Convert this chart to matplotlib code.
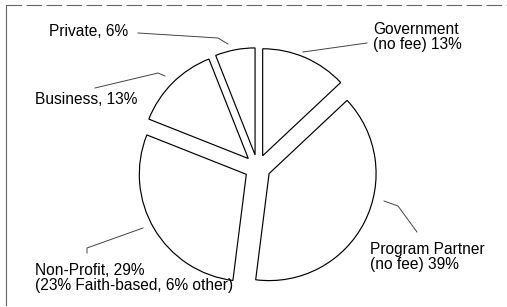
import matplotlib
matplotlib.use("Agg")
import matplotlib.pyplot as plt

categories = ["Government", "Program Partner", "Non-Profit", "Business", "Private"]
shares = [13, 39, 29, 13, 6]
label_texts = [
    "Government\n(no fee) 13%",
    "Program Partner\n(no fee) 39%",
    "Non-Profit, 29%\n(23% Faith-based, 6% other)",
    "Business, 13%",
    "Private, 6%",
]

W, H = 507, 307
fig = plt.figure(figsize=(W / 100, H / 100), dpi=100)
ax = fig.add_axes([0, 0, 1, 1])
plt.rcParams["font.family"] = ["Liberation Sans", "DejaVu Sans"]

cx, cy, r, ex = 257.5, 167.7, 107, 13
wedges, _ = ax.pie(shares, center=(cx, cy), radius=r, explode=[ex] * len(shares),
                   startangle=-90, counterclock=True,
                   wedgeprops=dict(facecolor="white", edgecolor="black", linewidth=0.85))
ax.set_xlim(0, W)
ax.set_ylim(H, 0)
ax.set_aspect("auto")
ax.axis("off")

fs = 11.2
# label positions (left x, center y of block) and leader lines
layout = {
    "Government": ((373, 37), [(367, 43), (303, 52)]),
    "Program Partner": ((370, 257), [(417, 232), (398, 206), (384, 201)]),
    "Non-Profit": ((35, 278), [(87, 253), (87, 248), (143, 228)]),
    "Business": ((35, 99), [(95, 88), (158, 73), (165, 76)]),
    "Private": ((49, 32), [(138, 33), (218, 38), (228, 44)]),
}
for cat, txt in zip(categories, label_texts):
    (tx, ty), pts = layout[cat]
    ax.text(tx, ty, txt, fontsize=fs, ha="left", va="center", color="black",
            linespacing=1.05, zorder=5)
    xs = [p[0] for p in pts]
    ys = [p[1] for p in pts]
    ax.plot(xs, ys, color="#444444", linewidth=0.7)

# scanned frame edges
ax.plot([6, W], [5, 5], color="#666666", linewidth=0.8, linestyle=(0, (14, 4)))
ax.plot([6, 6], [5, 305], color="#666666", linewidth=0.8)

fig.savefig("out.png", dpi=100)
